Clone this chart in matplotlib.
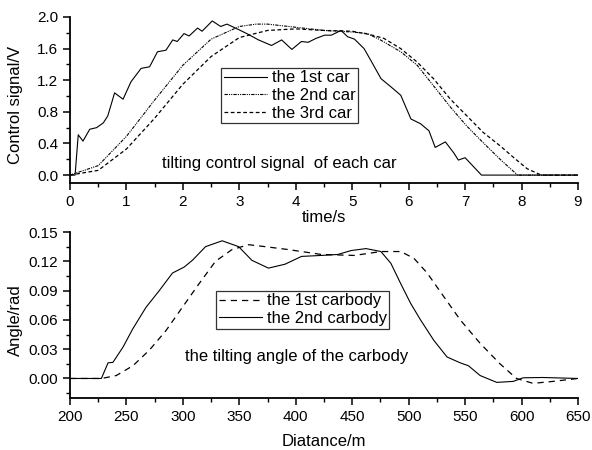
import matplotlib
matplotlib.use("Agg")
import matplotlib.pyplot as plt
from matplotlib.ticker import MultipleLocator, FormatStrFormatter

plt.rcParams["font.family"] = ["Liberation Sans", "DejaVu Sans"]

# --- top panel: control signal of each car ---
t_car1 = [0, 0.09, 0.146, 0.23, 0.35, 0.47, 0.59, 0.67, 0.79, 0.94, 1.08, 1.26, 1.41,
          1.55, 1.70, 1.82, 1.90, 2.02, 2.11, 2.26, 2.34, 2.52, 2.67, 2.78, 2.99, 3.16,
          3.34, 3.57, 3.75, 3.93, 4.10, 4.22, 4.36, 4.51, 4.63, 4.80, 4.92, 5.04, 5.21,
          5.33, 5.51, 5.68, 5.86, 6.04, 6.21, 6.36, 6.47, 6.65, 6.80, 6.88, 7.00, 7.29, 9.0]
v_car1 = [0, 0, 0.51, 0.43, 0.58, 0.60, 0.66, 0.75, 1.04, 0.96, 1.18, 1.35, 1.37,
          1.56, 1.58, 1.71, 1.69, 1.79, 1.76, 1.86, 1.82, 1.95, 1.88, 1.91, 1.84, 1.78,
          1.71, 1.64, 1.71, 1.59, 1.69, 1.68, 1.73, 1.77, 1.77, 1.83, 1.75, 1.72, 1.60,
          1.45, 1.22, 1.12, 1.01, 0.71, 0.65, 0.56, 0.35, 0.42, 0.28, 0.19, 0.22, 0.0, 0.0]

t_car2 = [0, 0.5, 1.0, 1.5, 2.0, 2.5, 3.0, 3.3, 3.5, 4.0, 4.5, 5.0, 5.27, 5.5, 5.86,
          6.15, 6.44, 6.74, 7.03, 7.32, 7.62, 7.93, 9.0]
v_car2 = [0, 0.12, 0.49, 0.95, 1.39, 1.72, 1.88, 1.91, 1.91, 1.87, 1.83, 1.81, 1.79,
          1.71, 1.56, 1.39, 1.13, 0.86, 0.62, 0.41, 0.20, 0.0, 0.0]

t_car3 = [0, 0.5, 1.0, 1.5, 2.0, 2.5, 3.0, 3.5, 4.0, 4.5, 5.0, 5.3, 5.56, 5.86, 6.15,
          6.44, 6.74, 7.03, 7.32, 7.62, 7.88, 8.1, 8.35, 9.0]
v_car3 = [0, 0.06, 0.33, 0.72, 1.15, 1.50, 1.74, 1.83, 1.85, 1.83, 1.82, 1.78, 1.73,
          1.60, 1.43, 1.22, 0.96, 0.75, 0.54, 0.37, 0.21, 0.08, 0.0, 0.0]

# --- bottom panel: tilting angle of the carbody ---
d_body1 = [200, 228, 241, 255.7, 270.3, 285, 299.6, 314.3, 328.9, 343.5, 358.2, 372.8,
           393.4, 422.6, 452, 475.4, 493, 504.7, 516.4, 531, 545.7, 563.3, 580.9,
           595.5, 610.2, 627.8, 650]
a_body1 = [0, 0, 0.003, 0.013, 0.029, 0.049, 0.073, 0.097, 0.120, 0.132, 0.137, 0.135,
           0.132, 0.127, 0.126, 0.130, 0.130, 0.123, 0.108, 0.084, 0.060, 0.036, 0.015,
           0.0, -0.005, -0.003, 0.0]

d_body2 = [200, 227.8, 233.7, 238, 246.9, 255.7, 267.4, 279.1, 290.8, 301, 308.4,
           320.1, 334.8, 349.4, 361.1, 375.8, 390.4, 405.1, 422.6, 437.3, 449, 462.2,
           475.4, 484.2, 493, 501.7, 510.5, 522.3, 534, 545.7, 553, 563.3, 578, 592.6,
           601.4, 618.7, 650]
a_body2 = [0, 0, 0.016, 0.0165, 0.032, 0.051, 0.073, 0.090, 0.108, 0.114, 0.121,
           0.135, 0.141, 0.135, 0.121, 0.113, 0.117, 0.125, 0.126, 0.127, 0.131, 0.133,
           0.130, 0.118, 0.097, 0.077, 0.060, 0.039, 0.022, 0.016, 0.013, 0.003, -0.004,
           -0.003, 0.0007, 0.001, 0.0]

FS = 12
LEG = dict(bbox_transform=None, fontsize=FS, frameon=True, fancybox=False,
           edgecolor="black", handlelength=2.6, handletextpad=0.3, borderpad=0.15,
           labelspacing=0.15, borderaxespad=0, loc="upper left")


def style_axes(ax):
    for side in ("top", "right"):
        ax.spines[side].set_visible(False)
    for side in ("left", "bottom"):
        ax.spines[side].set_linewidth(1.3)
    ax.tick_params(which="major", direction="out", length=5, width=1.1, labelsize=11)
    ax.tick_params(which="minor", direction="out", length=3, width=1.0)
    ax.yaxis.set_label_coords(-0.092, 0.47)


fig = plt.figure(figsize=(5.92, 4.5), dpi=100)
W = 508 / 592
ax1 = fig.add_axes([70 / 592, 1 - 183 / 450, W, 166 / 450])
ax2 = fig.add_axes([70 / 592, 1 - 398 / 450, W, 166 / 450])
LEG["bbox_transform"] = fig.transFigure

ax1.plot(t_car1, v_car1, color="black", lw=0.8, label="the 1st car")
ax1.plot(t_car2, v_car2, color="black", lw=0.8, dashes=(3, 1, 1, 1, 1, 1),
         label="the 2nd car")
ax1.plot(t_car3, v_car3, color="black", lw=0.9, dashes=(3, 2), label="the 3rd car")
ax1.set_xlim(0, 9)
ax1.set_ylim(-0.1, 2.0)
ax1.xaxis.set_major_locator(MultipleLocator(1))
ax1.xaxis.set_minor_locator(MultipleLocator(0.5))
ax1.yaxis.set_major_locator(MultipleLocator(0.4))
ax1.yaxis.set_minor_locator(MultipleLocator(0.2))
ax1.yaxis.set_major_formatter(FormatStrFormatter("%.1f"))
ax1.set_xlabel("time/s", fontsize=FS, labelpad=1)
ax1.set_ylabel("Control signal/V", fontsize=FS)
style_axes(ax1)
ax1.text(1.63, 0.15, "tilting control signal  of each car", fontsize=FS,
         ha="left", va="center")
leg1 = ax1.legend(bbox_to_anchor=(221 / 592, 1 - 68 / 450), **LEG)
leg1.get_frame().set_linewidth(0.9)

ax2.plot(d_body1, a_body1, color="black", lw=0.9, dashes=(5, 4), label="the 1st carbody")
ax2.plot(d_body2, a_body2, color="black", lw=0.8, label="the 2nd carbody")
ax2.set_xlim(200, 650)
ax2.set_ylim(-0.02, 0.15)
ax2.xaxis.set_major_locator(MultipleLocator(50))
ax2.xaxis.set_minor_locator(MultipleLocator(25))
ax2.yaxis.set_major_locator(MultipleLocator(0.03))
ax2.yaxis.set_minor_locator(MultipleLocator(0.015))
ax2.yaxis.set_major_formatter(FormatStrFormatter("%.2f"))
ax2.set_xlabel("Diatance/m", fontsize=FS, labelpad=7)
ax2.set_ylabel("Angle/rad", fontsize=FS)
style_axes(ax2)
ax2.text(302, 0.0226, "the tilting angle of the carbody", fontsize=FS,
         ha="left", va="center")
leg2 = ax2.legend(bbox_to_anchor=(216 / 592, 1 - 291 / 450), **LEG)
leg2.get_frame().set_linewidth(0.9)

fig.savefig("out.png", dpi=100)
